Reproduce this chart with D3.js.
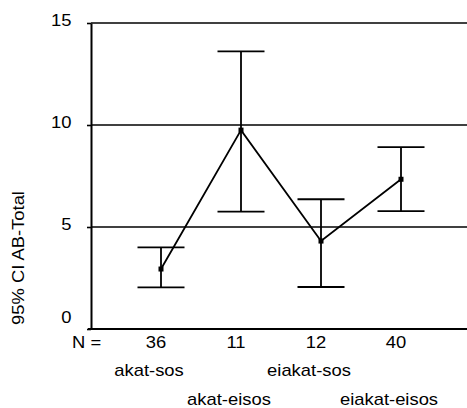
<!DOCTYPE html>
<html>
<head>
<meta charset="utf-8">
<script src="https://cdn.jsdelivr.net/npm/d3@7"></script>
<style>
  body { margin: 0; background: #fff; }
  text { font-family: "Liberation Sans", Arial, sans-serif; font-size: 16px; fill: #000; }
</style>
</head>
<body>
<svg id="chart" width="467" height="408"></svg>
<script>
// Group means with 95% confidence intervals
const groups = ["akat-sos", "akat-eisos", "eiakat-sos", "eiakat-eisos"];
const counts = [36, 11, 12, 40];
const means = [2.94, 9.75, 4.31, 7.34];
const lower = [2.04, 5.75, 2.06, 5.78];
const upper = [4.00, 13.61, 6.36, 8.92];
const yTicks = [0, 5, 10, 15];
const gridValues = [5, 10, 15];
const yTitle = "95% CI AB-Total";

const W = 467;
const stretch = 1.15;   // wide, Arial-like lettering
const capHalf = 5.7;    // half cap height at 16px

const svg = d3.select("#chart");
const x = d3.scalePoint().domain(groups).range([161, 401]);
const y = d3.scaleLinear().domain([0, 15]).range([329, 23]);
const axisX = 91;

// horizontal reference lines
svg.append("g").selectAll("line").data(gridValues).join("line")
  .attr("x1", axisX).attr("x2", W)
  .attr("y1", d => y(d)).attr("y2", d => y(d))
  .attr("stroke", "#000").attr("stroke-width", 1.6);

// y axis
const yAxis = svg.append("g")
  .attr("transform", `translate(${axisX},0)`)
  .call(d3.axisLeft(y).tickValues(yTicks).tickSize(4).tickSizeOuter(0).tickPadding(13).tickFormat(d3.format("d")));
yAxis.select(".domain").attr("stroke", "#000").attr("stroke-width", 2);
yAxis.selectAll(".tick line").attr("stroke", "#000").attr("stroke-width", 1.6);
yAxis.selectAll(".tick text")
  .attr("font-family", null).attr("font-size", null)
  .attr("dy", null)
  .attr("y", d => (d === 0 ? -12 : -3) + capHalf)
  .attr("transform", `scale(${stretch},1)`);

// x axis baseline
svg.append("line")
  .attr("x1", axisX - 3).attr("x2", W)
  .attr("y1", y(0)).attr("y2", y(0))
  .attr("stroke", "#000").attr("stroke-width", 2.2);

// error bars
const bars = svg.append("g").attr("stroke", "#000").attr("stroke-width", 1.8);
groups.forEach((g, i) => {
  const cx = x(g);
  bars.append("line").attr("x1", cx).attr("x2", cx).attr("y1", y(lower[i])).attr("y2", y(upper[i]));
  bars.append("line").attr("x1", cx - 23.5).attr("x2", cx + 23.5).attr("y1", y(lower[i])).attr("y2", y(lower[i]));
  bars.append("line").attr("x1", cx - 23.5).attr("x2", cx + 23.5).attr("y1", y(upper[i])).attr("y2", y(upper[i]));
});

// line joining the means
const pts = groups.map((g, i) => [x(g), y(means[i])]);
svg.append("path")
  .attr("d", d3.line()(pts))
  .attr("fill", "none").attr("stroke", "#000").attr("stroke-width", 1.8);

svg.append("g").selectAll("rect").data(pts).join("rect")
  .attr("x", d => d[0] - 2.5).attr("y", d => d[1] - 2.5)
  .attr("width", 5).attr("height", 5).attr("fill", "#000");

// stretched text helper
function label(txt, px, py, anchor, extra) {
  return svg.append("text")
    .attr("text-anchor", anchor)
    .attr("transform", `translate(${px},${py}) ${extra || ""} scale(${stretch},1)`)
    .text(txt);
}

// counts row
const nRow = 342 + capHalf;
label("N =", 72, nRow, "start");
groups.forEach((g, i) => label(String(counts[i]), x(g) - 5, nRow, "middle"));

// group names, staggered on two rows
groups.forEach((g, i) => label(g, x(g) - 12, i % 2 === 0 ? 376 : 405, "middle"));

// y axis title
label(yTitle, 18 + capHalf, 258, "middle", "rotate(-90)");
</script>
</body>
</html>
